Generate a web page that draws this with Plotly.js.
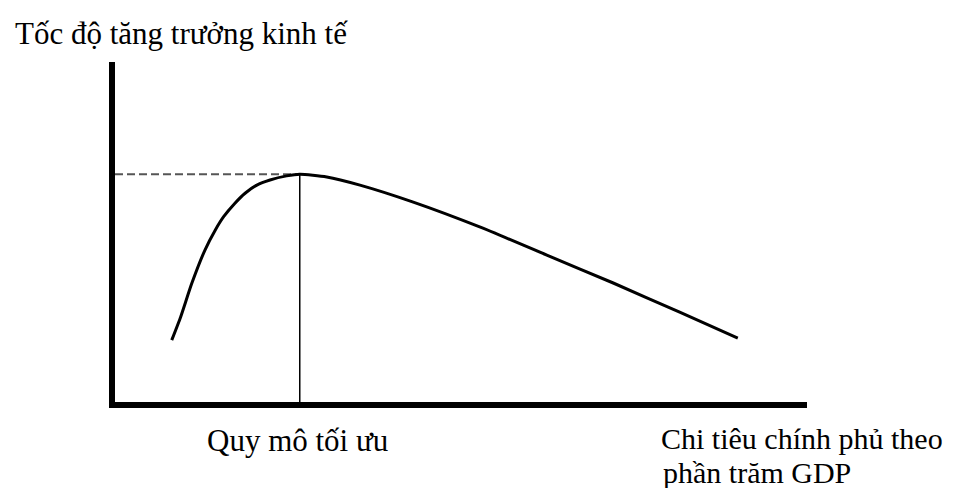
<!DOCTYPE html>
<html>
<head>
<meta charset="utf-8">
<script src="https://cdn.plot.ly/plotly-3.0.1.min.js"></script>
<style>
  html, body { margin: 0; padding: 0; background: #fff; }
  #chart { width: 961px; height: 488px; }
</style>
</head>
<body>
<div id="chart"></div>
<script>
// growth curve (x: spending % scale, y: growth scale, both 0-100)
const spending = [8.2, 9.5, 11.1, 13.0, 14.5, 15.7, 17.3, 18.8, 20.5, 22.4, 24.8, 26.7,
  30.6, 35.4, 43.1, 52.7, 62.4, 72.0, 81.6, 90.0];
const growth = [18.2, 25.1, 34.9, 44.7, 50.6, 54.5, 58.4, 61.4, 63.8, 65.3, 66.5, 67.0,
  66.2, 63.8, 58.8, 51.5, 43.2, 35.0, 26.4, 18.8];

// optimum point
const optX = 26.7;
const optY = 67.0;

const labels = {
  yTitle: "Tốc độ tăng trưởng kinh tế",
  optimum: "Quy mô tối ưu",
  xTitle1: "Chi tiêu chính phủ theo",
  xTitle2: "phần trăm GDP",
};

const serif = "'Times New Roman', 'Liberation Serif', serif";

const traces = [
  {
    // dashed line from y axis to the peak
    type: "scatter",
    x: [0, optX],
    y: [optY, optY],
    mode: "lines",
    line: { color: "#555", width: 2, dash: "8px,4px" },
    hoverinfo: "skip",
  },
  {
    // vertical line at optimum
    type: "scatter",
    x: [optX, optX],
    y: [0, optY],
    mode: "lines",
    line: { color: "black", width: 1.5 },
    hoverinfo: "skip",
  },
  {
    type: "scatter",
    x: spending,
    y: growth,
    mode: "lines",
    line: { color: "black", width: 3, shape: "spline", smoothing: 0.6 },
    hoverinfo: "skip",
  },
];

function ann(text, x, y, size) {
  return {
    text: text,
    xref: "paper",
    yref: "paper",
    x: x,
    y: y,
    xanchor: "left",
    yanchor: "middle",
    showarrow: false,
    font: { family: serif, size: size, color: "black" },
  };
}

const layout = {
  width: 961,
  height: 488,
  margin: { l: 115, r: 154, t: 62, b: 86 },
  paper_bgcolor: "white",
  plot_bgcolor: "white",
  showlegend: false,
  xaxis: {
    range: [0, 100],
    showline: true,
    linecolor: "black",
    linewidth: 6,
    showgrid: false,
    zeroline: false,
    showticklabels: false,
    ticks: "",
    fixedrange: true,
  },
  yaxis: {
    range: [0, 100],
    showline: true,
    linecolor: "black",
    linewidth: 6,
    showgrid: false,
    zeroline: false,
    showticklabels: false,
    ticks: "",
    fixedrange: true,
  },
  annotations: [
    ann(labels.yTitle, -0.147, 1.085, 31),
    ann(labels.optimum, 0.13, -0.112, 31),
    ann(labels.xTitle1, 0.786, -0.106, 30),
    ann(labels.xTitle2, 0.789, -0.206, 30),
  ],
};

Plotly.newPlot("chart", traces, layout, { displayModeBar: false, staticPlot: true });
</script>
</body>
</html>
